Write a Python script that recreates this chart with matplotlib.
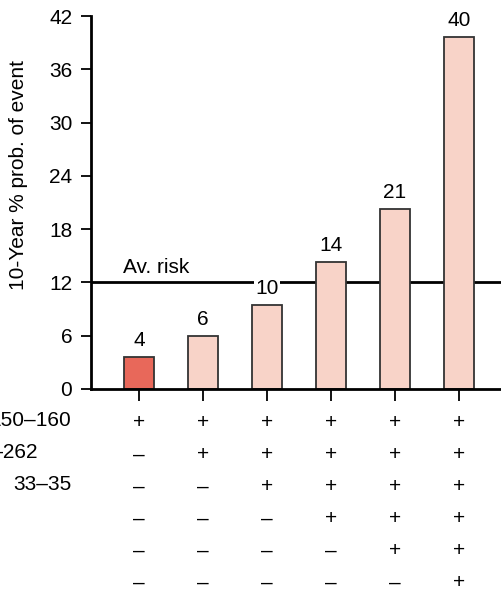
import numpy as np
import matplotlib
matplotlib.use('Agg')
import matplotlib.pyplot as plt

plt.rcParams['font.family'] = ['Liberation Sans', 'DejaVu Sans']

risk = [3.6, 6.0, 9.5, 14.3, 20.3, 39.6]
risk_labels = ['4', '6', '10', '14', '21', '40']
bar_colors = ['#e8685a', '#f8d3c8', '#f8d3c8', '#f8d3c8', '#f8d3c8', '#f8d3c8']
avg_risk = 12
yticks = [0, 6, 12, 18, 24, 30, 36, 42]

# risk factor table under the bars (+ present, - absent)
row_names = ['150\u2013160', '-262', '33\u201335', '', '', '']
factors = [
    ['+', '+', '+', '+', '+', '+'],
    ['\u2013', '+', '+', '+', '+', '+'],
    ['\u2013', '\u2013', '+', '+', '+', '+'],
    ['\u2013', '\u2013', '\u2013', '+', '+', '+'],
    ['\u2013', '\u2013', '\u2013', '\u2013', '+', '+'],
    ['\u2013', '\u2013', '\u2013', '\u2013', '\u2013', '+'],
]

FS = 15

fig = plt.figure(figsize=(5.02, 5.91), dpi=100)
ax = fig.add_axes([91/502, 1-389/591, 1-91/502, (389-16)/591])

x = np.arange(len(risk))
ax.bar(x, risk, width=0.47, color=bar_colors, edgecolor='#333333', linewidth=1.3, zorder=2)
ax.axhline(avg_risk, color='black', linewidth=2, zorder=1)
ax.text(-0.25, avg_risk + 1.1, 'Av. risk', fontsize=FS, ha='left', va='baseline')

for i, (v, lab) in enumerate(zip(risk, risk_labels)):
    bb = None
    if i == 2:
        bb = dict(facecolor='white', edgecolor='none', pad=1)
    ax.text(i, v + 1.25, lab, fontsize=FS, ha='center', va='baseline', bbox=bb, zorder=3)

ax.set_xlim(-0.75, 5.672)
ax.set_ylim(0, 42)
ax.set_yticks(yticks)
ax.set_xticks(x)
ax.set_xticklabels([])
ax.tick_params(axis='y', labelsize=FS, length=7.5, width=1.3, pad=6)
ax.tick_params(axis='x', length=8.5, width=1.3, direction='out')
for s in ['top', 'right']:
    ax.spines[s].set_visible(False)
ax.spines['left'].set_linewidth(2)
ax.spines['bottom'].set_linewidth(2)

fig.text(19/502, 1-175/591, '10-Year % prob. of event', rotation=90, fontsize=FS,
         ha='center', va='center')

# table rows
for r in range(len(factors)):
    ybase = 1 - (421 + 32*r + 5.5)/591
    if row_names[r]:
        fig.text(71/502 if r != 1 else 38/502, ybase, row_names[r], fontsize=FS,
                 ha='right', va='baseline')
    for i, sym in enumerate(factors[r]):
        xfig = (139 + 64*i)/502
        fig.text(xfig, ybase - 2/591, sym, fontsize=FS, ha='center', va='baseline')

fig.savefig('out.png', dpi=100)
